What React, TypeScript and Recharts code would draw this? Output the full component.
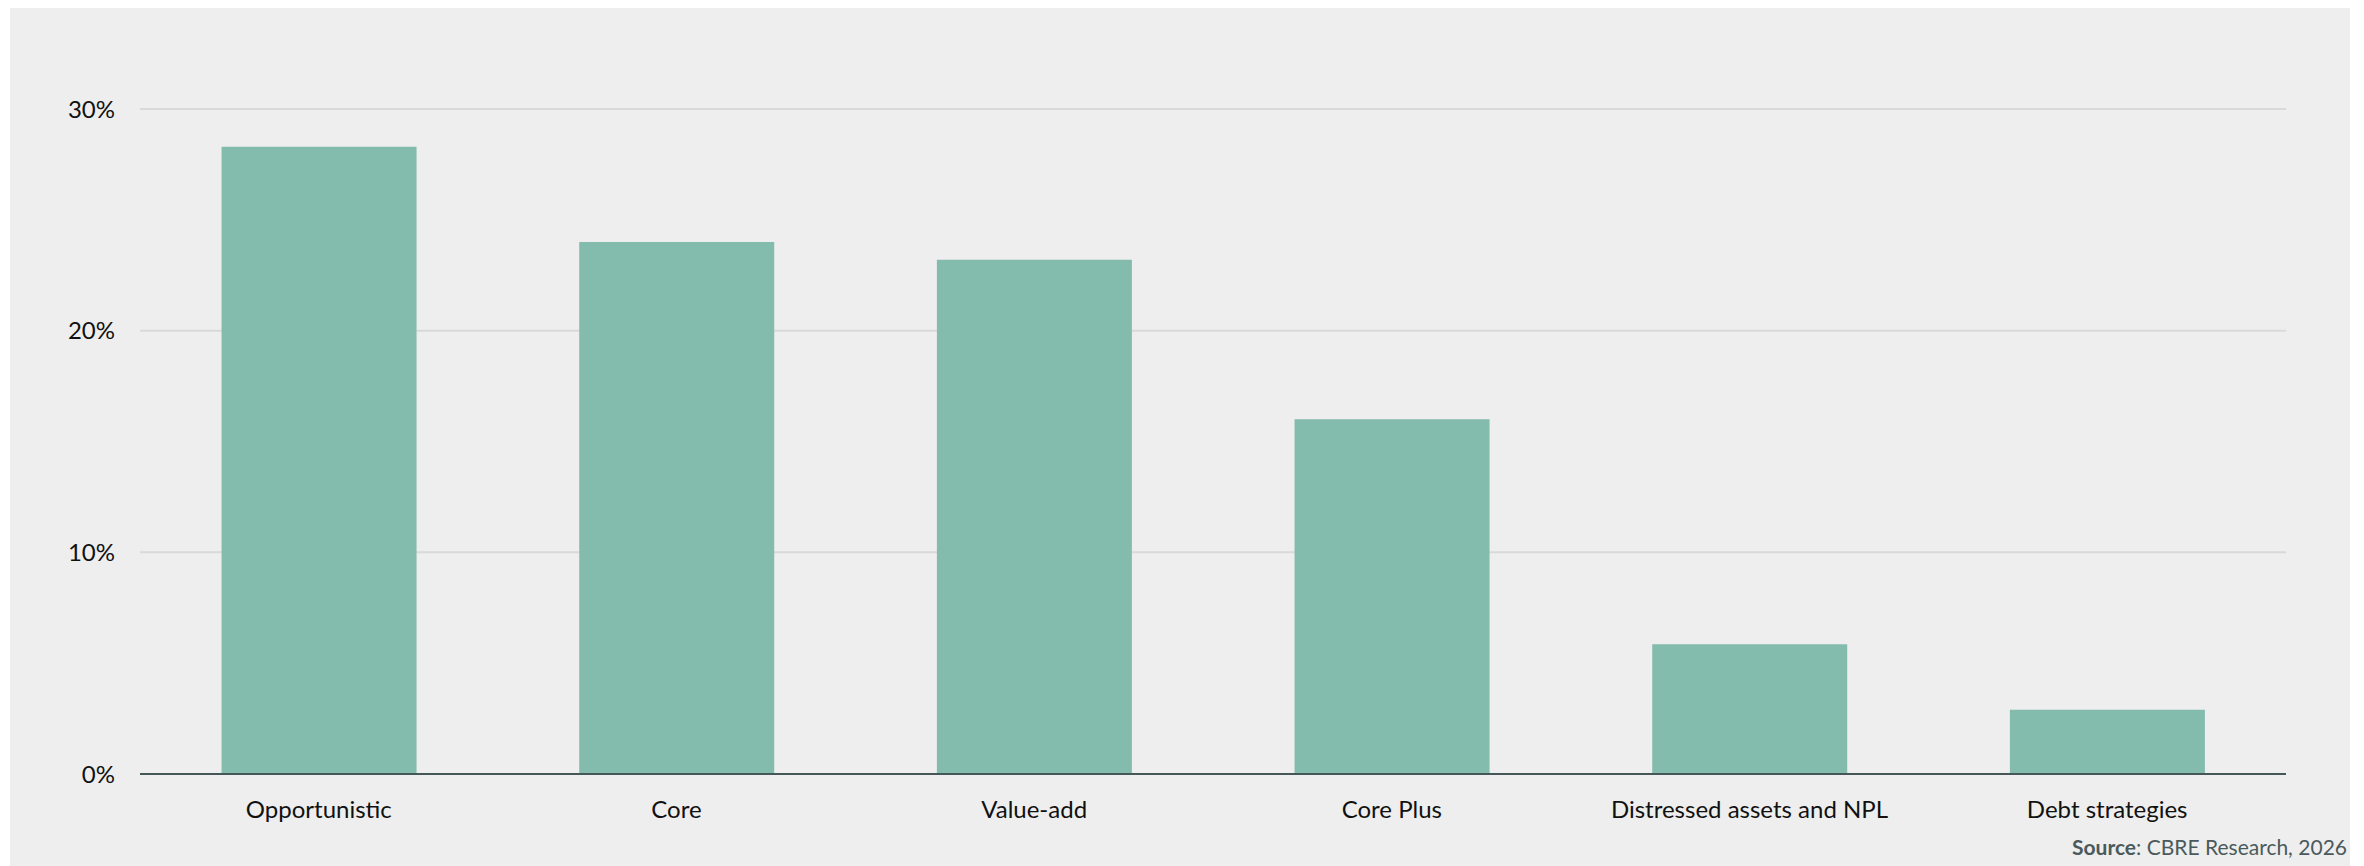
import { BarChart, Bar, XAxis, YAxis, CartesianGrid } from 'recharts';

const categories = ['Opportunistic', 'Core', 'Value-add', 'Core Plus', 'Distressed assets and NPL', 'Debt strategies'];
const shares = [28.3, 24.0, 23.2, 16.0, 5.85, 2.9];
const yTicks = [0, 10, 20, 30];

const FONT = 'Lato, "Open Sans", sans-serif';
const BAR = '#83bbad';

export default function App() {
  const data = categories.map((c, i) => ({ strategy: c, share: shares[i] }));

  return (
    <div
      style={{
        position: 'absolute',
        left: 10,
        top: 8,
        width: 2340,
        height: 858,
        background: '#eeeeee',
        fontFamily: FONT,
      }}
    >
      <BarChart
        width={2340}
        height={858}
        data={data}
        margin={{ top: 101, right: 64, left: 0, bottom: 0 }}
        barCategoryGap="22.8%"
      >
        <CartesianGrid vertical={false} stroke="#d9d9d9" strokeWidth={2} />
        <XAxis
          dataKey="strategy"
          height={92}
          tickSize={0}
          tickMargin={27}
          interval={0}
          axisLine={{ stroke: '#46575a', strokeWidth: 2 }}
          tick={{ fontSize: 24, fill: '#111', fontFamily: FONT }}
        />
        <YAxis
          width={130}
          domain={[0, 30]}
          ticks={yTicks}
          tickFormatter={(v: number) => `${v}%`}
          tickSize={0}
          tickMargin={25}
          axisLine={false}
          tick={{ fontSize: 24, fill: '#111', fontFamily: FONT }}
        />
        <Bar dataKey="share" fill={BAR} isAnimationActive={false} />
      </BarChart>
      <div
        style={{
          position: 'absolute',
          right: 3,
          top: 826,
          fontSize: 21,
          lineHeight: '26px',
          color: '#4a5a5c',
          whiteSpace: 'nowrap',
        }}
      >
        <b>Source</b>: CBRE Research, 2026
      </div>
    </div>
  );
}
